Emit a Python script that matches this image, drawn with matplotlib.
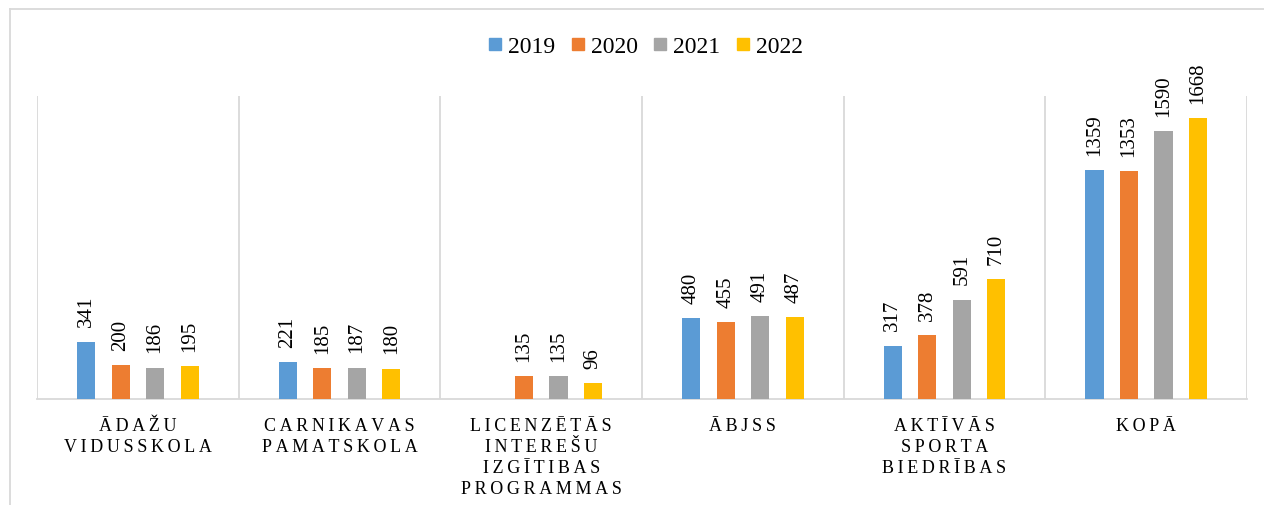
import numpy as np
import matplotlib.pyplot as plt
from matplotlib.lines import Line2D

plt.rcParams['font.family'] = ['Liberation Serif', 'DejaVu Serif']

# Categories (each line of a label is one word)
categories = [
    ["ĀDAŽU", "VIDUSSKOLA"],
    ["CARNIKAVAS", "PAMATSKOLA"],
    ["LICENZĒTĀS", "INTEREŠU", "IZGĪTIBAS", "PROGRAMMAS"],
    ["ĀBJSS"],
    ["AKTĪVĀS", "SPORTA", "BIEDRĪBAS"],
    ["KOPĀ"],
]
years = ["2019", "2020", "2021", "2022"]

# values per year (nan = no value)
v2019 = [341, 221, np.nan, 480, 317, 1359]
v2020 = [200, 185, 135, 455, 378, 1353]
v2021 = [186, 187, 135, 491, 591, 1590]
v2022 = [195, 180, 96, 487, 710, 1668]
series = [v2019, v2020, v2021, v2022]
colors = ["#5B9BD5", "#ED7D31", "#A5A5A5", "#FFC000"]

fig = plt.figure(figsize=(12.64, 5.06), dpi=100)
ax = fig.add_axes([0.0293, 0.2095, 0.9573, 0.5988])

x = np.arange(len(categories))
step = 0.171
width = 0.09
for i, (vals, col) in enumerate(zip(series, colors)):
    pos = x + (i - 1.5) * step
    vals = np.array(vals, dtype=float)
    ok = ~np.isnan(vals)
    ax.bar(pos[ok], vals[ok], width=width, color=col, zorder=3)
    for px, v in zip(pos[ok], vals[ok]):
        ax.annotate(f"{int(v)}", (px, v), xytext=(0, 11), textcoords="offset points",
                    rotation=90, ha="center", va="bottom", fontsize=15)

ax.set_xlim(-0.5, len(categories) - 0.5)
ax.set_ylim(0, 1800)
ax.vlines(np.arange(len(categories) + 1) - 0.5, 0, 1800, color="#d9d9d9", lw=1.3, zorder=1)
for s in ["top", "right", "left"]:
    ax.spines[s].set_visible(False)
ax.spines["bottom"].set_color("#d9d9d9")
ax.spines["bottom"].set_linewidth(1.3)
ax.set_yticks([])

# letter-spaced labels, thin space between letters
labels = ["\n".join("\u2009".join(w) for w in c) for c in categories]
ax.set_xticks(x)
ax.set_xticklabels(labels, fontsize=13, linespacing=1.3)
ax.tick_params(axis="x", length=0, pad=13)

handles = [Line2D([], [], marker="s", ls="", color=c, markersize=9) for c in colors]
fig.legend(handles, years, loc="center", bbox_to_anchor=(0.511, 0.906), ncol=4,
           frameon=False, fontsize=17, handlelength=0.5, handletextpad=0.3,
           columnspacing=0.7)

# outer chart border
fig.add_artist(Line2D([10 / 1264, 1.0], [1 - 10 / 506] * 2, transform=fig.transFigure,
                      color="#d9d9d9", lw=1.3))
fig.add_artist(Line2D([10 / 1264] * 2, [0, 1 - 10 / 506], transform=fig.transFigure,
                      color="#d9d9d9", lw=1.3))

fig.savefig("out.png", dpi=100)
